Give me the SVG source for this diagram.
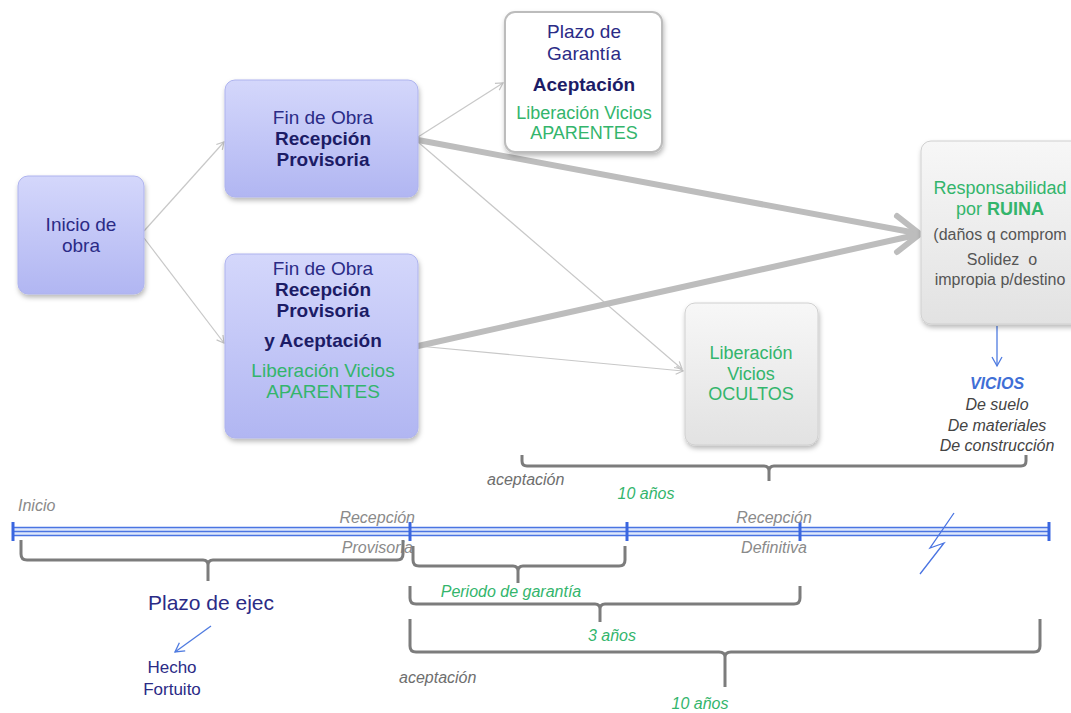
<svg xmlns="http://www.w3.org/2000/svg" width="1071" height="713" viewBox="0 0 1071 713">
<defs>
<linearGradient id="gBlue" x1="0" y1="0" x2="0" y2="1"><stop offset="0" stop-color="#d4d7fb"/><stop offset="1" stop-color="#b1b6f2"/></linearGradient>
<linearGradient id="gGray" x1="0" y1="0" x2="0" y2="1"><stop offset="0" stop-color="#f7f7f7"/><stop offset="1" stop-color="#e2e2e2"/></linearGradient>
<filter id="sh" x="-20%" y="-20%" width="140%" height="140%"><feDropShadow dx="1" dy="3" stdDeviation="2.5" flood-color="#000" flood-opacity="0.28"/></filter>
<marker id="thin" markerWidth="10" markerHeight="10" refX="8" refY="5" orient="auto" markerUnits="userSpaceOnUse"><path d="M1,1 L8,5 L1,9" fill="none" stroke="#c4c4c4" stroke-width="1.2"/></marker>
<marker id="blue" markerWidth="12" markerHeight="12" refX="10" refY="6" orient="auto" markerUnits="userSpaceOnUse"><path d="M1,1 L10,6 L1,11" fill="none" stroke="#4f7be0" stroke-width="1.3"/></marker>
</defs>
<style>
text{font-family:"Liberation Sans",Arial,sans-serif}
.n{font-size:19px;fill:#2b2b86;text-anchor:middle}
.b{font-weight:bold;fill:#1c1c66}
.g{font-size:18px;fill:#33b56c;text-anchor:middle}
.gr{font-size:16px;fill:#555;text-anchor:middle}
.tl{font-size:16px;font-style:italic;fill:#8a8a8a}
.gi{font-size:16px;font-style:italic;fill:#33b56c}
.vi{font-size:16px;font-style:italic;fill:#444;text-anchor:middle}
.thin{fill:none;stroke:#c8c8c8;stroke-width:1.2}
.thick{fill:none;stroke:#bdbdbd;stroke-width:6;stroke-linecap:round;stroke-linejoin:round}
.br{fill:none;stroke:#7c7c7c;stroke-width:3;stroke-linejoin:round}
.tk{stroke:#3a66e0;stroke-width:3}
</style>
<rect width="1071" height="713" fill="#ffffff"/>

<g id="connectors">
<line class="thin" x1="144" y1="231" x2="224" y2="142" marker-end="url(#thin)"/>
<line class="thin" x1="144" y1="238" x2="224" y2="343" marker-end="url(#thin)"/>
<line class="thin" x1="418" y1="137" x2="503" y2="83" marker-end="url(#thin)"/>
<line class="thin" x1="418" y1="142" x2="682" y2="369" marker-end="url(#thin)"/>
<line class="thin" x1="418" y1="346" x2="683" y2="371" marker-end="url(#thin)"/>
<line class="thick" x1="418" y1="140" x2="916" y2="233"/>
<line class="thick" x1="418" y1="346" x2="916" y2="235"/>
<polyline class="thick" points="897,216 920,234 897,252"/>
<line x1="997" y1="326" x2="997" y2="366" stroke="#4f7be0" stroke-width="1.3" marker-end="url(#blue)"/>
<line x1="211" y1="626" x2="175" y2="652" stroke="#4f7be0" stroke-width="1.3" marker-end="url(#blue)"/>
</g>

<g id="inicio">
<rect x="18" y="176" width="126" height="118" rx="10" fill="url(#gBlue)" stroke="#aeb3ee" filter="url(#sh)"/>
<text class="n" x="81" y="231">Inicio de</text>
<text class="n" x="81" y="252">obra</text>
</g>

<g id="fin1">
<rect x="225" y="80" width="193" height="117" rx="10" fill="url(#gBlue)" stroke="#aeb3ee" filter="url(#sh)"/>
<text class="n" x="323" y="124">Fin de Obra</text>
<text class="n b" x="323" y="145">Recepción</text>
<text class="n b" x="323" y="166">Provisoria</text>
</g>

<g id="fin2">
<rect x="225" y="254" width="193" height="184" rx="10" fill="url(#gBlue)" stroke="#aeb3ee" filter="url(#sh)"/>
<text class="n" x="323" y="275">Fin de Obra</text>
<text class="n b" x="323" y="296">Recepción</text>
<text class="n b" x="323" y="317">Provisoria</text>
<text class="n b" x="323" y="347">y Aceptación</text>
<text class="g" x="323" y="377" style="font-size:19px">Liberación Vicios</text>
<text class="g" x="323" y="398" style="font-size:19px">APARENTES</text>
</g>

<g id="plazo">
<rect x="505" y="12" width="157" height="140" rx="10" fill="#ffffff" stroke="#bcbcbc" stroke-width="2" filter="url(#sh)"/>
<text class="n" x="584" y="38">Plazo de</text>
<text class="n" x="584" y="60">Garantía</text>
<text class="n b" x="584" y="91">Aceptación</text>
<text class="g" x="584" y="119">Liberación Vicios</text>
<text class="g" x="584" y="139">APARENTES</text>
</g>

<g id="responsabilidad">
<rect x="921" y="141" width="170" height="183" rx="10" fill="url(#gGray)" stroke="#d0d0d0" filter="url(#sh)"/>
<text class="g" x="1000" y="194">Responsabilidad</text>
<text class="g" x="1000" y="215">por <tspan font-weight="bold">RUINA</tspan></text>
<text class="gr" x="1000" y="240">(daños q comprom</text>
<text class="gr" x="1002" y="265">Solidez&#160; o</text>
<text class="gr" x="1000" y="285">impropia p/destino</text>
</g>

<g id="ocultos">
<rect x="685" y="303" width="133" height="142" rx="10" fill="url(#gGray)" stroke="#d0d0d0" filter="url(#sh)"/>
<text class="g" x="751" y="359">Liberación</text>
<text class="g" x="751" y="380">Vicios</text>
<text class="g" x="751" y="400">OCULTOS</text>
</g>

<g id="vicios">
<text x="997" y="389" text-anchor="middle" font-size="16" font-style="italic" font-weight="bold" fill="#3f6fd6">VICIOS</text>
<text class="vi" x="997" y="410">De suelo</text>
<text class="vi" x="997" y="431">De materiales</text>
<text class="vi" x="997" y="451">De construcción</text>
</g>

<g id="timeline">
<rect x="13" y="527" width="1036" height="9" fill="#dfe8fb"/>
<line x1="13" y1="527.5" x2="1049" y2="527.5" stroke="#4a74e2" stroke-width="1.5"/>
<line x1="13" y1="531.5" x2="1049" y2="531.5" stroke="#4a74e2" stroke-width="1.5"/>
<line x1="13" y1="535.5" x2="1049" y2="535.5" stroke="#4a74e2" stroke-width="1.5"/>
<line class="tk" x1="13" y1="522" x2="13" y2="541"/>
<line class="tk" x1="410" y1="522" x2="410" y2="541"/>
<line class="tk" x1="627" y1="522" x2="627" y2="541"/>
<line class="tk" x1="800" y1="522" x2="800" y2="541"/>
<line class="tk" x1="1049" y1="522" x2="1049" y2="541"/>
<polyline points="954,513 930,548 944,543 920,574" fill="none" stroke="#4a74e2" stroke-width="1.3"/>
<text class="tl" x="18" y="511">Inicio</text>
<text class="tl" x="415" y="523" text-anchor="end">Recepción</text>
<text class="tl" x="413" y="553" text-anchor="end">Provisoria</text>
<text class="tl" x="774" y="523" text-anchor="middle">Recepción</text>
<text class="tl" x="774" y="553" text-anchor="middle">Definitiva</text>
</g>

<g id="brackets">
<path class="br" d="M522,455 V461 Q522,466 527,466 H764 Q769,466 769,471 V481 M769,471 Q769,466 774,466 H1021 Q1026,466 1026,461 V455"/>
<path class="br" d="M21,540 V554 Q21,560 27,560 H203 Q208,560 208,565 V581 M208,565 Q208,560 213,560 H397 Q403,560 403,554 V540"/>
<path class="br" d="M413,546 V560 Q413,566 419,566 H513 Q518,566 518,571 V583 M518,571 Q518,566 523,566 H619 Q625,566 625,560 V546"/>
<path class="br" d="M410,586 V598 Q410,604 416,604 H595 Q600,604 600,609 V622 M600,609 Q600,604 605,604 H794 Q800,604 800,598 V586"/>
<path class="br" d="M410,619 V646 Q410,652 416,652 H719 Q725,652 725,657 V687 M725,657 Q725,652 731,652 H1034 Q1040,652 1040,646 V619"/>
</g>

<g id="labels">
<text class="tl" x="487" y="485" style="fill:#6e6e6e">aceptación</text>
<text class="gi" x="646" y="499" text-anchor="middle">10 años</text>
<text class="gi" x="511" y="597" text-anchor="middle">Periodo de garantía</text>
<text class="gi" x="612" y="641" text-anchor="middle">3 años</text>
<text class="tl" x="399" y="683" style="fill:#6e6e6e">aceptación</text>
<text class="gi" x="700" y="709" text-anchor="middle">10 años</text>
<text x="211" y="610" text-anchor="middle" font-size="21" fill="#2b2b86">Plazo de ejec</text>
<text x="172" y="673" text-anchor="middle" font-size="17" fill="#2b2b86">Hecho</text>
<text x="172" y="695" text-anchor="middle" font-size="17" fill="#2b2b86">Fortuito</text>
</g>
</svg>
